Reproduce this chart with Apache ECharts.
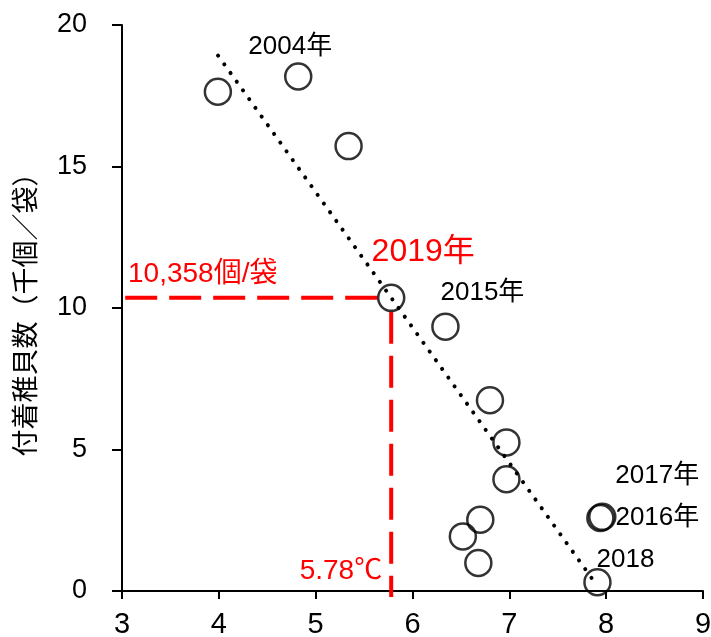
<!DOCTYPE html>
<html>
<head>
<meta charset="utf-8">
<script src="https://cdn.jsdelivr.net/npm/echarts@6/dist/echarts.min.js"></script>
<style>
  html, body { margin: 0; padding: 0; background: #fff; }
  #chart { width: 711px; height: 637px; }
</style>
</head>
<body>
<div id="chart"></div>
<script>
// Water temperature (°C) against settled spat per bag (thousands)
const waterTemp = [3.99, 4.82, 5.34, 5.78, 6.34, 6.80, 6.97, 6.97, 6.70, 6.52, 6.68, 7.94, 7.96, 7.91];
const spatCount = [17.64, 18.18, 15.72, 10.358, 9.34, 6.74, 5.25, 3.95, 2.52, 1.93, 0.99, 2.58, 2.62, 0.31];
const yearTags  = ['', '2004年', '', '2019年', '2015年', '', '', '', '', '', '', '2016年', '2017年', '2018'];

// Regression line end points
const trendTemp = [3.992, 7.91];
const trendSpat = [18.92, 0.17];

// Highlighted year (read-off values)
const focusTemp = 5.78;
const focusSpat = 10.358;

const xTicks = { min: 3, max: 9, step: 1 };
const yTicks = { min: 0, max: 20, step: 5 };

const LATIN = "'Liberation Sans', 'Noto Sans CJK JP', sans-serif";
const RED = '#ff0000';

// label placement for the tagged years
const tagStyle = {
  '2004年': { offset: [-8, -30], color: '#000', size: 26 },
  '2019年': { offset: [32, -46], color: RED, size: 32 },
  '2015年': { offset: [37, -34], color: '#000', size: 26 },
  '2016年': { offset: [57, 0], color: '#000', size: 26 },
  '2017年': { offset: [55, -41], color: '#000', size: 26 },
  '2018':   { offset: [28, -22], color: '#000', size: 26 }
};

const points = waterTemp.map((t, i) => {
  const item = { value: [t, spatCount[i]] };
  const tag = yearTags[i];
  if (tag && tagStyle[tag]) {
    const s = tagStyle[tag];
    item.label = {
      show: true,
      formatter: tag,
      position: 'inside',
      offset: s.offset,
      color: s.color,
      fontSize: s.size,
      fontFamily: LATIN,
      textBorderWidth: 0,
      textBorderColor: 'transparent',
      opacity: 1
    };
  }
  return item;
});

function thousands(v) {
  return Math.round(v * 1000).toString().replace(/\B(?=(\d{3})+(?!\d))/g, ',');
}

const chart = echarts.init(document.getElementById('chart'), null, { renderer: 'canvas' });

chart.setOption({
  animation: false,
  backgroundColor: '#fff',
  grid: { left: 122, right: 8, top: 25, bottom: 46, containLabel: false, outerBoundsMode: 'none' },
  xAxis: {
    type: 'value',
    min: xTicks.min, max: xTicks.max, interval: xTicks.step,
    axisLine: { show: true, onZero: false, lineStyle: { color: '#000', width: 2 } },
    axisTick: { show: true, length: 8, lineStyle: { color: '#000', width: 2 } },
    axisLabel: { color: '#000', fontSize: 29, fontFamily: LATIN, margin: 19 },
    splitLine: { show: false }
  },
  yAxis: {
    type: 'value',
    min: yTicks.min, max: yTicks.max, interval: yTicks.step,
    name: '付着稚貝数（千個／袋）',
    nameLocation: 'middle',
    nameGap: 84,
    nameRotate: 90,
    nameTextStyle: { color: '#000', fontSize: 27, fontFamily: "'Noto Sans CJK JP', sans-serif" },
    axisLine: { show: true, onZero: false, lineStyle: { color: '#000', width: 2 } },
    axisTick: { show: true, length: 10, lineStyle: { color: '#000', width: 2 } },
    axisLabel: { color: '#000', fontSize: 27, fontFamily: LATIN, margin: 35 },
    splitLine: { show: false }
  },
  series: [
    {
      name: 'trend',
      type: 'line',
      data: trendTemp.map((t, i) => [t, trendSpat[i]]),
      symbol: 'none',
      silent: true,
      z: 2,
      lineStyle: { color: '#000', width: 4, type: [0.1, 10.6], cap: 'round' }
    },
    {
      name: 'focus',
      type: 'custom',
      silent: true,
      z: 3,
      data: [[focusTemp, focusSpat]],
      renderItem: function (params, api) {
        const x = api.value(0), y = api.value(1);
        const p = api.coord([x, y]);
        const left = api.coord([xTicks.min, y]);
        const base = api.coord([x, yTicks.min]);
        const r = 14;
        const dash = { stroke: RED, lineWidth: 4, lineDash: [32, 12], fill: null };
        return {
          type: 'group',
          children: [
            { type: 'line', shape: { x1: p[0] - r, y1: p[1], x2: left[0], y2: p[1] }, style: dash },
            { type: 'line', shape: { x1: p[0], y1: p[1] + r, x2: p[0], y2: base[1] + 6 }, style: dash },
            {
              type: 'text',
              style: {
                text: thousands(y) + '個/袋',
                x: left[0] + 6, y: p[1] - 24,
                fill: RED, fontSize: 28, fontFamily: LATIN,
                align: 'left', verticalAlign: 'middle',
                textAlign: 'left', textVerticalAlign: 'middle'
              }
            },
            {
              type: 'text',
              style: {
                text: x + '℃',
                x: p[0] - 9, y: base[1] - 20,
                fill: RED, fontSize: 28, fontFamily: LATIN,
                align: 'right', verticalAlign: 'middle',
                textAlign: 'right', textVerticalAlign: 'middle'
              }
            }
          ]
        };
      }
    },
    {
      name: 'spat',
      type: 'scatter',
      data: points,
      symbol: 'circle',
      symbolSize: 26,
      z: 4,
      itemStyle: { color: 'rgba(0,0,0,0)', borderColor: '#000', borderWidth: 2.5 }
    }
  ]
});
</script>
</body>
</html>
